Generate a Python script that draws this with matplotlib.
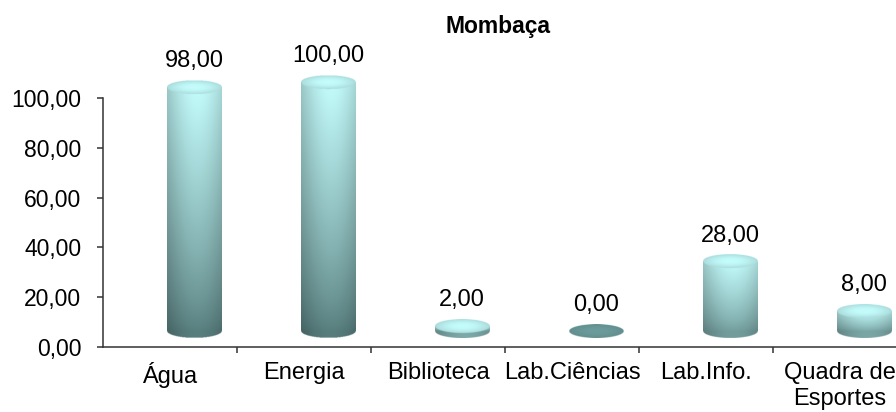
import numpy as np
import matplotlib.pyplot as plt

categorias = ['Água', 'Energia', 'Biblioteca', 'Lab.Ciências', 'Lab.Info.', 'Quadra de\nEsportes']
valores = [98.0, 100.0, 2.0, 0.0, 28.0, 8.0]
rotulos = ['98,00', '100,00', '2,00', '0,00', '28,00', '8,00']
yticks = [0, 20, 40, 60, 80, 100]
ytick_labels = ['0,00', '20,00', '40,00', '60,00', '80,00', '100,00']
titulo = 'Mombaça'

plt.rcParams['font.family'] = ['Liberation Sans', 'DejaVu Sans']

# cores do gradiente (escuro embaixo, claro em cima)
escuro = np.array([84, 120, 120]) / 255.0
claro = np.array([188, 242, 242]) / 255.0
tampa = np.array([185, 238, 238]) / 255.0
zero_cor = np.array([102, 148, 148]) / 255.0


def cilindro(ax, cx, v, w=0.205, base=6.5, eh=2.8):
    top = base + v
    y0 = base - eh
    y1 = top + eh
    nx, ny = 160, 700
    U, Y = np.meshgrid(np.linspace(-1, 1, nx), np.linspace(y1, y0, ny))

    # fundo mais claro para barras curtas
    lo = escuro + (claro - escuro) * 0.35 * (1 - v / 100.0)
    s = np.clip((Y - base) / max(v, 1.0), 0, 1)
    cor = lo + (claro - lo) * (s[..., None] ** 0.8)
    sombra = 0.82 + 0.22 * np.cos((U - 0.1) * np.pi / 2.2)
    cor = cor * sombra[..., None]

    el_topo = U ** 2 + ((Y - top) / eh) ** 2 <= 1
    el_base = U ** 2 + ((Y - base) / eh) ** 2 <= 1
    corpo = (np.abs(U) <= 1) & (Y >= base) & (Y <= top)

    r = np.sqrt(U ** 2 + ((Y - top) / eh) ** 2)
    if v > 0:
        c_tampa = tampa[None, None, :] * (1.06 - 0.14 * r[..., None] ** 2)
    else:
        c_tampa = zero_cor[None, None, :] * (1.05 - 0.1 * r[..., None] ** 2)
    cor = np.where(el_topo[..., None], c_tampa, cor)

    alfa = (corpo | el_topo | el_base).astype(float)
    img = np.dstack([np.clip(cor, 0, 1), alfa])
    ax.imshow(img, extent=(cx - w, cx + w, y0, y1), aspect='auto',
              zorder=2, interpolation='bilinear')
    return y1


fig = plt.figure(figsize=(8.96, 4.12), dpi=100)
ax = fig.add_axes([103 / 896, 65 / 412, 804 / 896, 249 * 1.2 / 412])

x = np.arange(len(categorias))
desloc = 0.18
for xi, v, rot in zip(x, valores, rotulos):
    ytop = cilindro(ax, xi + desloc, v)
    ax.text(xi + desloc, ytop + 3.0, rot, ha='center', va='bottom', fontsize=17)

ax.set_xlim(-0.5, 5.5)
ax.set_ylim(0, 120)

for lado in ['top', 'right']:
    ax.spines[lado].set_visible(False)
ax.spines['left'].set_bounds(0, 100)
for lado in ['left', 'bottom']:
    ax.spines[lado].set_linewidth(1.1)
    ax.spines[lado].set_color('#333333')

ax.set_yticks(yticks)
ax.set_yticklabels(ytick_labels, fontsize=16.5)
ax.tick_params(axis='y', direction='out', length=4.5, width=1.1, color='#333333', pad=11)

ax.set_xticks(x)
ax.set_xticklabels(categorias, fontsize=17, linespacing=1.2)
ax.set_xticks(x[:-1] + 0.5, minor=True)
ax.tick_params(axis='x', which='major', length=0, pad=11)
ax.tick_params(axis='x', which='minor', direction='out', length=4.5, width=1.1, color='#333333')

fig.text(498 / 896, 1 - 26 / 412, titulo, ha='center', va='center', fontsize=16.5, fontweight='bold')

fig.savefig('out.png', dpi=100)
